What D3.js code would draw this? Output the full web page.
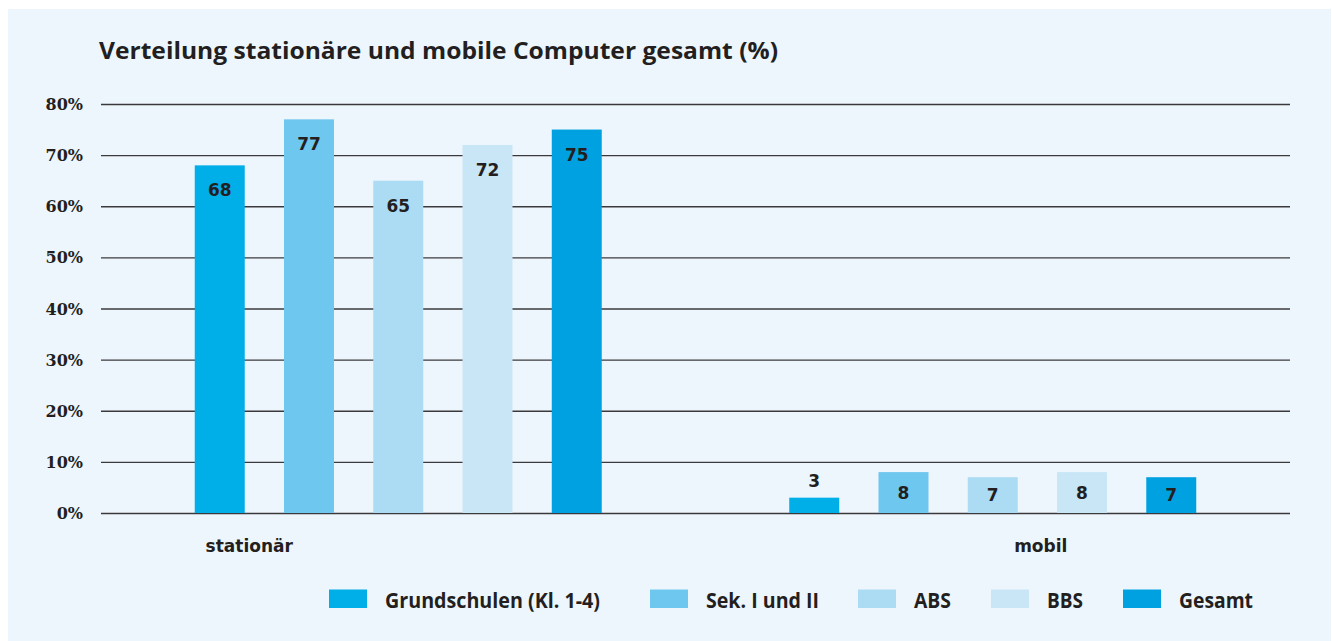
<!DOCTYPE html>
<html>
<head>
<meta charset="utf-8">
<script src="https://cdn.jsdelivr.net/npm/d3@7"></script>
<style>
  html, body { margin: 0; padding: 0; background: #fff; }
  svg { display: block; }
</style>
</head>
<body>
<svg id="chart" width="1332" height="641"></svg>
<script>
// data
const categories = ["stationär", "mobil"];
const series = ["Grundschulen (Kl. 1-4)", "Sek. I und II", "ABS", "BBS", "Gesamt"];
const stationaer = [68, 77, 65, 72, 75];
const mobil = [3, 8, 7, 8, 7];
const yTicks = [0, 10, 20, 30, 40, 50, 60, 70, 80];
const colors = ["#00aee8", "#6ec7ef", "#acdbf4", "#c8e6f6", "#00a1e1"];

const values = { "stationär": stationaer, "mobil": mobil };

const W = 1332, H = 641;
const svg = d3.select("#chart");

// panel background
svg.append("rect")
  .attr("x", 8).attr("y", 9)
  .attr("width", W - 9).attr("height", H - 9)
  .attr("fill", "#eef6fd");

const margin = { top: 104, left: 101, right: 42, bottom: 128 };
const innerW = W - margin.left - margin.right;
const innerH = H - margin.top - margin.bottom;

const g = svg.append("g").attr("transform", `translate(${margin.left},${margin.top})`);

const x0 = d3.scaleBand().domain(categories).range([0, innerW]);
const groupW = 407;
const x1 = d3.scaleBand().domain(series)
  .range([(x0.bandwidth() - groupW) / 2, (x0.bandwidth() + groupW) / 2])
  .paddingInner(0.44);
const y = d3.scaleLinear().domain([0, 80]).range([innerH, 0]);

// title
svg.append("text")
  .attr("x", 99).attr("y", 59)
  .attr("font-family", "'Open Sans', sans-serif")
  .attr("font-weight", 700)
  .attr("font-size", 22.5)
  .attr("fill", "#231f20")
  .attr("textLength", 679)
  .attr("lengthAdjust", "spacingAndGlyphs")
  .text("Verteilung stationäre und mobile Computer gesamt (%)");

// grid lines
g.append("g")
  .call(d3.axisLeft(y).tickValues(yTicks).tickSize(-innerW).tickFormat(""))
  .call(a => a.select(".domain").remove())
  .call(a => a.selectAll("line").attr("stroke", "#3a3a3c").attr("stroke-width", 1.3));

// y labels
g.append("g")
  .selectAll("text")
  .data(yTicks)
  .join("text")
  .attr("x", -18)
  .attr("y", d => y(d) + 6)
  .attr("text-anchor", "end")
  .attr("font-family", "'DejaVu Serif', serif")
  .attr("font-weight", 700)
  .attr("font-size", 16)
  .attr("fill", "#231f20")
  .text(d => d + "%");

// bars
const groups = g.selectAll(".grp")
  .data(categories)
  .join("g")
  .attr("class", "grp")
  .attr("transform", d => `translate(${x0(d)},0)`);

const cells = groups.selectAll(".cell")
  .data(c => series.map((s, i) => ({ cat: c, s, i, v: values[c][i] })))
  .join("g")
  .attr("class", "cell");

cells.append("rect")
  .attr("x", d => x1(d.s))
  .attr("y", d => y(d.v))
  .attr("width", x1.bandwidth())
  .attr("height", d => innerH - y(d.v))
  .attr("fill", d => colors[d.i]);

cells.append("text")
  .attr("x", d => x1(d.s) + x1.bandwidth() / 2)
  .attr("y", d => {
    const top = y(d.v);
    if (d.v >= 10) return top + 31;
    if (d.v >= 5) return (top + innerH) / 2 + 6;
    return top - 11;
  })
  .attr("text-anchor", "middle")
  .attr("font-family", "'DejaVu Sans', sans-serif")
  .attr("font-weight", 700)
  .attr("font-size", 17)
  .attr("fill", "#231f20")
  .text(d => d.v);

// category labels (positioned slightly off-center as in the original)
const catShift = { "stationär": -149, "mobil": 48 };
g.selectAll(".cat")
  .data(categories)
  .join("text")
  .attr("class", "cat")
  .attr("x", d => x0(d) + x0.bandwidth() / 2 + catShift[d])
  .attr("y", innerH + 39)
  .attr("text-anchor", "middle")
  .attr("font-family", "'DejaVu Sans', sans-serif")
  .attr("font-weight", 700)
  .attr("font-size", 17)
  .attr("fill", "#231f20")
  .text(d => d);

// legend
const legendX = [329, 650, 858, 991, 1123];
const legendW = [215, 113, 37, 36, 74];
const leg = svg.append("g")
  .selectAll("g")
  .data(series)
  .join("g")
  .attr("transform", (d, i) => `translate(${legendX[i]},589.5)`);

leg.append("rect")
  .attr("width", 38).attr("height", 18.5)
  .attr("fill", (d, i) => colors[i]);

leg.append("text")
  .attr("x", 56).attr("y", 18.5)
  .attr("font-family", "'Open Sans', sans-serif")
  .attr("font-weight", 700)
  .attr("font-size", 20.5)
  .attr("fill", "#231f20")
  .attr("textLength", (d, i) => legendW[i])
  .attr("lengthAdjust", "spacingAndGlyphs")
  .text(d => d);
</script>
</body>
</html>
